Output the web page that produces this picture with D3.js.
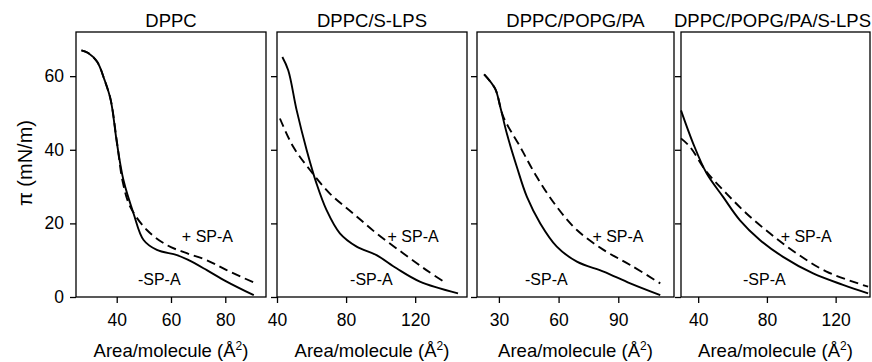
<!DOCTYPE html>
<html>
<head>
<meta charset="utf-8">
<script src="https://cdn.jsdelivr.net/npm/d3@7"></script>
<style>
  body { margin: 0; background: #fff; }
  text { font-family: "Liberation Sans", Arial, sans-serif; fill: #000; }
</style>
</head>
<body>
<svg id="chart" width="872" height="362"></svg>
<script>
// panel titles
const titles = ["DPPC", "DPPC/S-LPS", "DPPC/POPG/PA", "DPPC/POPG/PA/S-LPS"];

// x ticks per panel
const xTicks = [[40, 60, 80], [40, 80, 120], [30, 60, 90], [40, 80, 120]];
const xDomains = [[25, 95], [40, 150], [19, 118], [30, 140]];
const yTicks = [0, 20, 40, 60];

// -SP-A curves (solid), [area, pressure]
const minusSPA = [
  [[27, 67], [29.5, 66.3], [32.8, 63.9], [35.5, 59], [37.8, 53.5], [40.1, 41.7], [42.5, 31.7], [46.2, 22.7], [49.9, 15.5], [54.8, 12.8], [62.2, 11.4], [66.5, 10], [73.2, 7.3], [80.5, 4.2], [90.5, 0.5]],
  [[43.1, 65.2], [46.5, 61.6], [51.4, 50.7], [57.2, 39.9], [62.9, 30.8], [68.7, 23.6], [76.4, 17.3], [86.1, 13.7], [97.6, 11.4], [109.2, 7.8], [122.7, 4.2], [144.8, 1.0]],
  [[22.6, 60.5], [28.1, 56.6], [30.7, 51.6], [34.0, 44.4], [39.0, 35.4], [44.1, 27.2], [50.8, 20.0], [59.1, 13.7], [69.2, 9.6], [82.6, 6.9], [96.0, 3.7], [111.1, 0.5]],
  [[30, 50.7], [37.1, 41.7], [44.9, 33.6], [54.5, 27.2], [64.2, 20.9], [75.9, 15.5], [89.4, 10.9], [106.9, 6.4], [124.3, 3.3], [138.9, 1.0]]
];

// +SP-A curves (dashed)
const plusSPA = [
  [[27, 67], [29.5, 66.3], [32.8, 63.9], [35.5, 59], [37.8, 53.5], [40.1, 42], [42.3, 31], [45, 24.5], [51.1, 18.2], [58.5, 14.1], [65.8, 11.9], [73.2, 10.0], [80.5, 7.3], [91.2, 3.7]],
  [[41.7, 48.5], [49.4, 40.8], [59.1, 34.5], [70.6, 28.1], [84.1, 22.7], [97.6, 17.3], [113.0, 11.9], [126.5, 7.3], [138.1, 3.7]],
  [[22.6, 60.5], [28.1, 56.6], [32.3, 48.9], [40.7, 40.8], [49.1, 32.6], [59.1, 24.5], [69.2, 18.2], [82.6, 12.8], [96.0, 8.7], [111.1, 3.7]],
  [[30, 43.1], [35.2, 40.8], [44.9, 34], [56.5, 28.1], [68.1, 22.7], [81.7, 17.3], [97.2, 11.9], [114.7, 6.9], [138.9, 2.8]]
];

// annotation anchor points [area, pressure]
const plusLabelPos = [[64, 15], [104, 15], [77, 15], [88, 15]];
const minusLabelPos = [[47.8, 3.2], [82.3, 3.2], [43.1, 3.2], [66.1, 3.2]];

const svg = d3.select("#chart");
const plotTop = 32, plotBottom = 297;
const panelX = [[76, 266], [277, 467], [477, 674], [681, 870]];

const y = d3.scaleLinear().domain([0, 72]).range([plotBottom, plotTop]);

titles.forEach((title, i) => {
  const x = d3.scaleLinear().domain(xDomains[i]).range(panelX[i]);
  const g = svg.append("g");

  // frame
  g.append("rect")
    .attr("x", panelX[i][0]).attr("y", plotTop)
    .attr("width", panelX[i][1] - panelX[i][0])
    .attr("height", plotBottom - plotTop)
    .attr("fill", "none").attr("stroke", "#000").attr("stroke-width", 1.3);

  // y axis
  const yAxis = g.append("g")
    .attr("transform", `translate(${panelX[i][0]},0)`)
    .call(d3.axisLeft(y).tickValues(yTicks).tickSize(6).tickFormat(i === 0 ? d3.format("d") : ""));
  yAxis.select(".domain").remove();
  yAxis.selectAll("line").attr("stroke-width", 1.3);
  yAxis.selectAll("text").attr("font-size", 17.5).attr("font-family", "Liberation Sans, Arial, sans-serif").attr("dx", "-3");

  // x axis
  const xAxis = g.append("g")
    .attr("transform", `translate(0,${plotBottom})`)
    .call(d3.axisBottom(x).tickValues(xTicks[i]).tickSize(6).tickPadding(11));
  xAxis.select(".domain").remove();
  xAxis.selectAll("line").attr("stroke-width", 1.3);
  xAxis.selectAll("text").attr("font-size", 17.5).attr("font-family", "Liberation Sans, Arial, sans-serif");

  // title, kept inside the page on the right
  const t = g.append("text")
    .attr("x", (panelX[i][0] + panelX[i][1]) / 2).attr("y", 27)
    .attr("text-anchor", "middle").attr("font-size", 18.5)
    .text(title);
  const bb = t.node().getBBox();
  if (bb.x + bb.width > 871) t.attr("x", (panelX[i][0] + panelX[i][1]) / 2 - (bb.x + bb.width - 871));

  // x axis title
  const xt = g.append("text")
    .attr("x", (panelX[i][0] + panelX[i][1]) / 2).attr("y", 357)
    .attr("text-anchor", "middle").attr("font-size", 18.5);
  xt.append("tspan").text("Area/molecule (Å");
  xt.append("tspan").attr("font-size", 12).attr("dy", -7).text("2");
  xt.append("tspan").attr("dy", 7).text(")");

  const line = d3.line()
    .x(d => x(d[0])).y(d => y(d[1]))
    .curve(d3.curveCatmullRom.alpha(0.5));

  g.append("path").datum(minusSPA[i])
    .attr("d", line).attr("fill", "none")
    .attr("stroke", "#000").attr("stroke-width", 1.9);

  g.append("path").datum(plusSPA[i])
    .attr("d", line).attr("fill", "none")
    .attr("stroke", "#000").attr("stroke-width", 1.9)
    .attr("stroke-dasharray", "9,5");

  g.append("text")
    .attr("x", x(plusLabelPos[i][0])).attr("y", y(plusLabelPos[i][1]))
    .attr("font-size", 16).text("+ SP-A");
  g.append("text")
    .attr("x", x(minusLabelPos[i][0])).attr("y", y(minusLabelPos[i][1]))
    .attr("font-size", 16).text("-SP-A");
});

// y axis title
svg.append("text")
  .attr("transform", "translate(32,163) rotate(-90)")
  .attr("text-anchor", "middle").attr("font-size", 20)
  .text("π (mN/m)");
</script>
</body>
</html>
